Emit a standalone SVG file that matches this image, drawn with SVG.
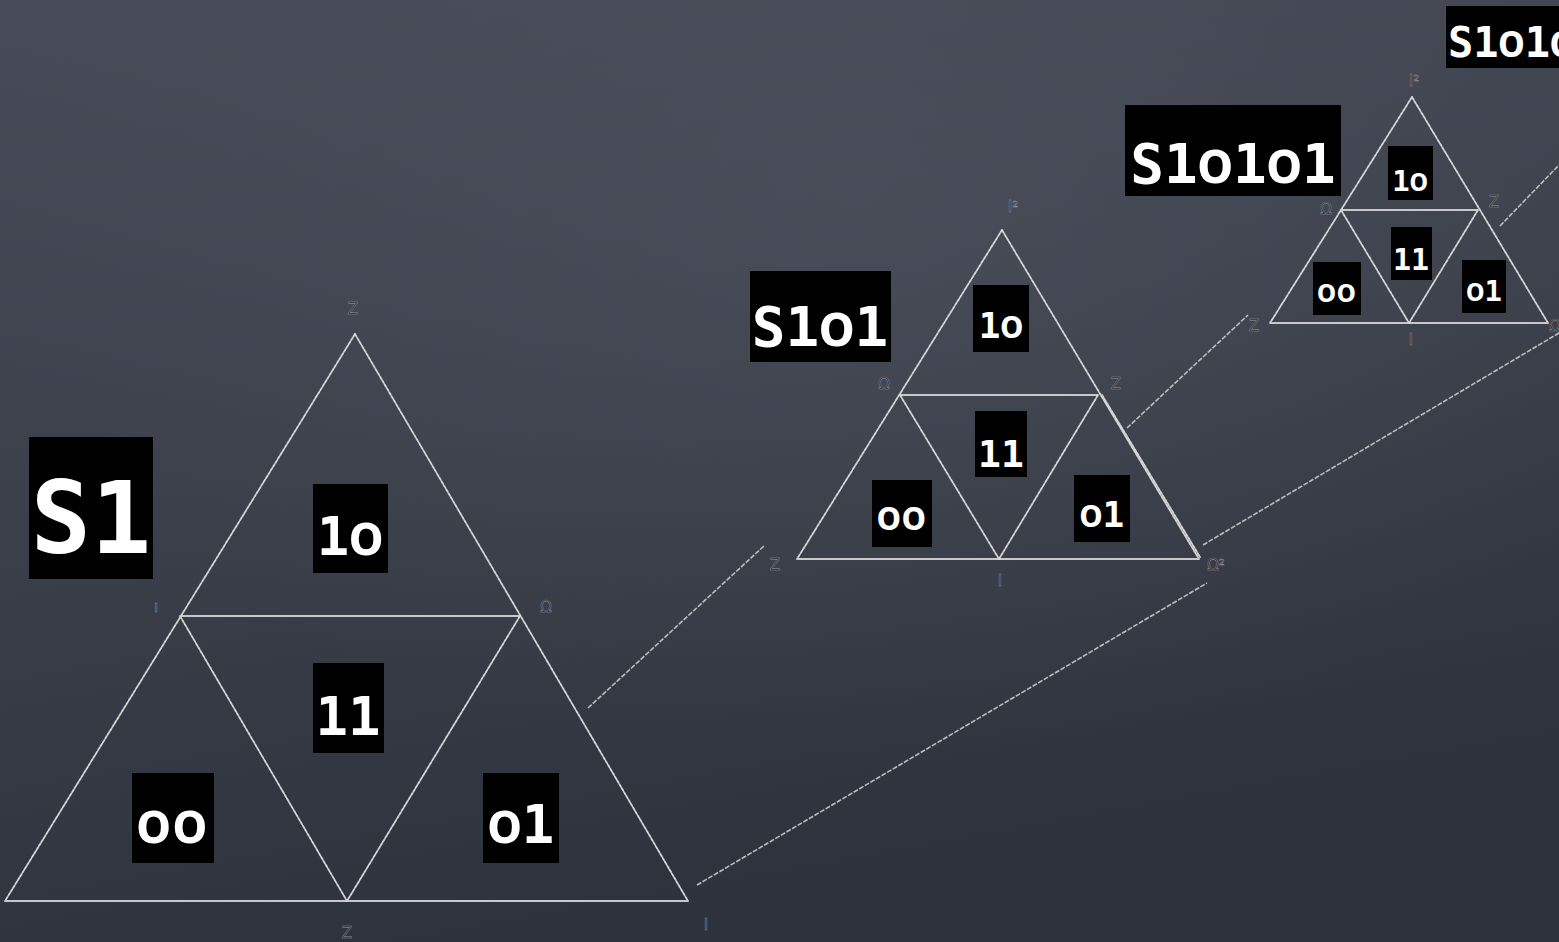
<svg xmlns="http://www.w3.org/2000/svg" width="1559" height="942" viewBox="0 0 1559 942">
<defs>
<linearGradient id="bg" x1="0" y1="0" x2="0.3" y2="1">
<stop offset="0" stop-color="#464b57"/>
<stop offset="0.5" stop-color="#3c404b"/>
<stop offset="1" stop-color="#2e323c"/>
</linearGradient>
<radialGradient id="glow" cx="0.55" cy="0.2" r="0.6">
<stop offset="0" stop-color="#5a5f6b" stop-opacity="0.35"/>
<stop offset="1" stop-color="#5a5f6b" stop-opacity="0"/>
</radialGradient>
<style>
.edge{stroke:#d6d6d6;stroke-width:1.8;stroke-dasharray:3 1.5;fill:none;stroke-linecap:round}
.flat{stroke:#c8c8c8;stroke-width:2;fill:none}
.conn{stroke:#bdbdbd;stroke-width:1.6;stroke-dasharray:5 1.5;fill:none}
.box{fill:#000}
.lbl{fill:#ffffff;font-family:"DejaVu Sans Mono","Liberation Mono",monospace;font-weight:bold;text-anchor:middle}
.z{font-family:"Noto Sans","Open Sans",sans-serif;font-weight:600;font-variant-numeric:oldstyle-nums;font-feature-settings:"onum" 1}
.vx{fill:#1c1e25;stroke:#9a9ca2;stroke-width:0.5;font-family:"DejaVu Sans","Liberation Sans",sans-serif;font-size:15px;text-anchor:middle}
</style>
</defs>
<rect width="1559" height="942" fill="url(#bg)"/>
<rect width="1559" height="942" fill="url(#glow)"/>

<g id="connectors">
<line class="conn" x1="588" y1="708" x2="765" y2="545"/>
<line class="conn" x1="697" y1="885" x2="1207" y2="583"/>
<line class="conn" x1="1127" y1="428" x2="1248" y2="315"/>
<line class="conn" x1="1203" y1="545" x2="1559" y2="333"/>
<line class="conn" x1="1500" y1="226" x2="1559" y2="165"/>
</g>

<g id="tri-s1">
<line class="edge" x1="355" y1="334" x2="5" y2="901"/>
<line class="edge" x1="355" y1="334" x2="688" y2="901"/>
<line class="flat" x1="5" y1="901" x2="688" y2="901"/>
<line class="flat" x1="180" y1="616" x2="520" y2="616"/>
<line class="edge" x1="180" y1="616" x2="347" y2="901"/>
<line class="edge" x1="520" y1="616" x2="347" y2="901"/>
<text class="vx" x="353" y="314">Z</text>
<text class="vx" x="156" y="612">ı</text>
<text class="vx" x="546" y="612">Ω</text>
<text class="vx" x="347" y="938">Z</text>
<text class="vx" x="706" y="930">I</text>
</g>
<g id="s1-title"><rect class="box" x="29" y="437" width="124" height="142"/><text class="lbl" x="91" y="553" font-size="100">S1</text></g>
<g id="s1-10"><rect class="box" x="313" y="484" width="75" height="89"/><text class="lbl" x="350" y="555" font-size="54">1<tspan class="z" font-size="60">0</tspan></text></g>
<g id="s1-11"><rect class="box" x="313" y="663" width="71" height="90"/><text class="lbl" x="348" y="735" font-size="54">11</text></g>
<g id="s1-00"><rect class="box" x="132" y="773" width="82" height="90"/><text class="lbl z" x="173" y="843" font-size="60" letter-spacing="2">00</text></g>
<g id="s1-01"><rect class="box" x="483" y="773" width="76" height="90"/><text class="lbl" x="521" y="843" font-size="54"><tspan class="z" font-size="60">0</tspan>1</text></g>

<g id="tri-s101">
<line class="edge" x1="1002" y1="230" x2="797" y2="559"/>
<line class="edge" x1="1002" y1="230" x2="1199" y2="559"/>
<line class="edge" x1="1102" y1="395" x2="1200" y2="557"/>
<line class="flat" x1="797" y1="559" x2="1199" y2="559"/>
<line class="flat" x1="900" y1="395" x2="1098" y2="395"/>
<line class="edge" x1="900" y1="395" x2="999" y2="559"/>
<line class="edge" x1="1098" y1="395" x2="999" y2="559"/>
<text class="vx" x="1013" y="212">I²</text>
<text class="vx" x="884" y="389">Ω</text>
<text class="vx" x="1116" y="389">Z</text>
<text class="vx" x="775" y="570">Z</text>
<text class="vx" x="1000" y="586">I</text>
<text class="vx" x="1216" y="570">Ω²</text>
</g>
<g id="s101-title"><rect class="box" x="750" y="271" width="141" height="91"/><text class="lbl" x="820" y="346" font-size="56">S1<tspan class="z" font-size="62">0</tspan>1</text></g>
<g id="s101-10"><rect class="box" x="973" y="285" width="56" height="67"/><text class="lbl" x="1001" y="338" font-size="36">1<tspan class="z" font-size="40">0</tspan></text></g>
<g id="s101-11"><rect class="box" x="975" y="411" width="52" height="66"/><text class="lbl" x="1001" y="467" font-size="38">11</text></g>
<g id="s101-00"><rect class="box" x="872" y="480" width="60" height="67"/><text class="lbl z" x="902" y="530" font-size="42" letter-spacing="1">00</text></g>
<g id="s101-01"><rect class="box" x="1074" y="475" width="56" height="67"/><text class="lbl" x="1102" y="527" font-size="36"><tspan class="z" font-size="40">0</tspan>1</text></g>

<g id="tri-s10101">
<line class="edge" x1="1412" y1="97" x2="1270" y2="323"/>
<line class="edge" x1="1412" y1="97" x2="1548" y2="323"/>
<line class="flat" x1="1270" y1="323" x2="1548" y2="323"/>
<line class="flat" x1="1341" y1="210" x2="1478" y2="210"/>
<line class="edge" x1="1341" y1="210" x2="1409" y2="323"/>
<line class="edge" x1="1478" y1="210" x2="1409" y2="323"/>
<text class="vx" x="1414" y="86">I²</text>
<text class="vx" x="1326" y="214">Ω</text>
<text class="vx" x="1494" y="207">Z</text>
<text class="vx" x="1254" y="331">Z</text>
<text class="vx" x="1411" y="345">I</text>
<text class="vx" x="1555" y="331">Ω</text>
</g>
<g id="s10101-title"><rect class="box" x="1125" y="105" width="216" height="91"/><text class="lbl" x="1233" y="183" font-size="56">S1<tspan class="z" font-size="62">0</tspan>1<tspan class="z" font-size="62">0</tspan>1</text></g>
<g id="s10101-10"><rect class="box" x="1388" y="146" width="45" height="54"/><text class="lbl" x="1410" y="191" font-size="29">1<tspan class="z" font-size="32">0</tspan></text></g>
<g id="s10101-11"><rect class="box" x="1391" y="227" width="41" height="53"/><text class="lbl" x="1411" y="270" font-size="30">11</text></g>
<g id="s10101-00"><rect class="box" x="1313" y="262" width="48" height="53"/><text class="lbl z" x="1337" y="302" font-size="33" letter-spacing="1">00</text></g>
<g id="s10101-01"><rect class="box" x="1462" y="260" width="44" height="53"/><text class="lbl" x="1484" y="301" font-size="29"><tspan class="z" font-size="32">0</tspan>1</text></g>
<g id="s1010-title"><rect class="box" x="1446" y="6" width="113" height="62"/><text class="lbl" x="1448" y="57" font-size="42" style="text-anchor:start">S1<tspan class="z" font-size="46">0</tspan>1<tspan class="z" font-size="46">0</tspan></text></g>
</svg>
